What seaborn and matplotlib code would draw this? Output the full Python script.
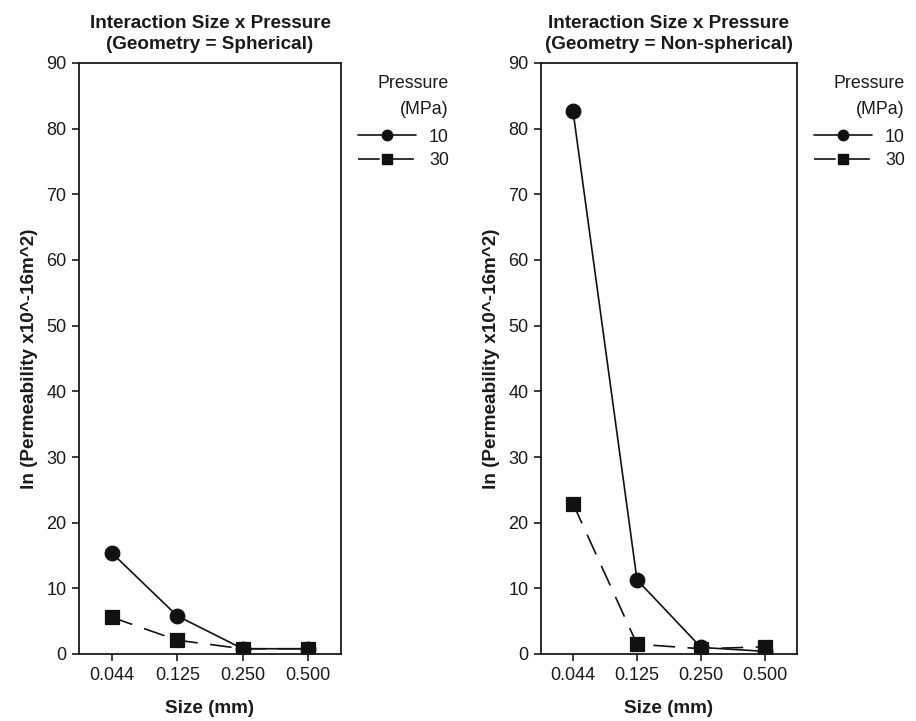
import matplotlib
matplotlib.use("Agg")
import matplotlib.pyplot as plt
from matplotlib.lines import Line2D
import seaborn as sns
import pandas as pd

sizes = ["0.044", "0.125", "0.250", "0.500"]
pressures = ["10", "30"]
sph_10 = [15.4, 5.8, 0.8, 0.8]
sph_30 = [5.6, 2.1, 0.8, 0.8]
nonsph_10 = [82.7, 11.3, 1.0, 0.4]
nonsph_30 = [22.9, 1.5, 0.8, 1.1]
titles = ["Interaction Size x Pressure\n(Geometry = Spherical)",
          "Interaction Size x Pressure\n(Geometry = Non-spherical)"]
yticks = list(range(0, 91, 10))

sns.set_theme(style="ticks")
plt.rcParams["font.family"] = ["Liberation Sans", "DejaVu Sans"]
plt.rcParams["text.color"] = "#1a1a1a"
plt.rcParams["axes.labelcolor"] = "#1a1a1a"
plt.rcParams["xtick.color"] = "#1a1a1a"
plt.rcParams["ytick.color"] = "#1a1a1a"

fig = plt.figure(figsize=(9.16, 7.21), dpi=100)
ax1 = fig.add_axes([79/916, 1-654/721, 262/916, 591/721])
ax2 = fig.add_axes([541/916, 1-654/721, 256/916, 591/721])

dash = (0, (13, 7.5))
styles = {"10": ("o", "-"), "30": ("s", dash)}

for ax, v10, v30, title in [(ax1, sph_10, sph_30, titles[0]),
                            (ax2, nonsph_10, nonsph_30, titles[1])]:
    df = pd.DataFrame({
        "Size": sizes * 2,
        "Pressure": ["10"] * len(sizes) + ["30"] * len(sizes),
        "Perm": v10 + v30,
    })
    sns.pointplot(data=df, x="Size", y="Perm", hue="Pressure",
                  hue_order=pressures, order=sizes,
                  palette=["#111111", "#111111"],
                  markers=["o", "s"], linestyles=["-", dash],
                  errorbar=None, dodge=False, ax=ax,
                  markersize=10.5, linewidth=1.2, legend=False)
    ax.set_ylim(0, 90)
    ax.set_xlim(-0.5, 3.5)
    ax.set_yticks(yticks)
    ax.set_title(title, fontsize=13.6, fontweight="bold", pad=10, linespacing=1.35)
    ax.set_xlabel("Size (mm)", fontsize=13.6, fontweight="bold", labelpad=12)
    ax.set_ylabel("ln (Permeability x10^-16m^2)", fontsize=13.6,
                  fontweight="bold", labelpad=6)
    ax.tick_params(axis="both", direction="out", length=5, width=1.2,
                   labelsize=13, pad=4)
    for s in ax.spines.values():
        s.set_linewidth(1.3)
        s.set_color("#1a1a1a")
        s.set_visible(True)
    handles = [Line2D([], [], color="#111111", marker=styles[p][0],
                      linestyle=styles[p][1], markersize=7.5, linewidth=1.2)
               for p in pressures]
    w = ax.get_position().width * 916
    leg = ax.legend(handles, pressures, title="Pressure\n(MPa)",
                    loc="upper left", bbox_to_anchor=(1 + 17 / w, 0.98),
                    frameon=False, fontsize=12.8, title_fontsize=12.8,
                    handlelength=3.25, handletextpad=0.75, labelspacing=0.36,
                    alignment="right", borderaxespad=0, borderpad=0)
    leg.get_title().set_linespacing(1.7)
    leg.get_title().set_multialignment("right")
    leg._legend_box.sep = 0.6 * 12.8

fig.savefig("out.png", dpi=100)
